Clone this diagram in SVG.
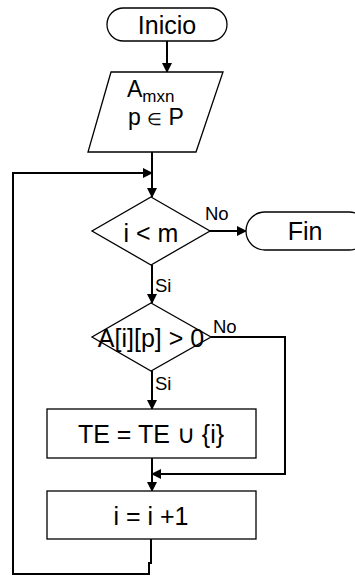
<svg xmlns="http://www.w3.org/2000/svg" width="355" height="576" viewBox="0 0 355 576">
  <style>
    .shape { fill: #ffffff; stroke: #000000; stroke-width: 1.3; }
    .wire { fill: none; stroke: #000000; stroke-width: 2; }
    .txt { font-family: "Liberation Sans", Arial, sans-serif; font-size: 25px; fill: #000000; text-anchor: middle; }
    .lbl { font-family: "Liberation Sans", Arial, sans-serif; font-size: 18.5px; fill: #000000; }
  </style>
  <defs>
    <marker id="arrow" markerWidth="10" markerHeight="10" refX="9" refY="5" orient="auto" markerUnits="userSpaceOnUse">
      <path d="M0,0 L10,5 L0,10 Z" fill="#000000"/>
    </marker>
  </defs>

  <!-- connectors -->
  <g id="connectors">
    <line class="wire" x1="167" y1="41" x2="167" y2="72" marker-end="url(#arrow)"/>
    <line class="wire" x1="152" y1="152" x2="152" y2="197" marker-end="url(#arrow)"/>
    <!-- loop back from i = i + 1 -->
    <path class="wire" d="M151,539 L151,563 L149,563 L149,574 L13,574 L13,173 L152,173" marker-end="url(#arrow)"/>
    <line class="wire" x1="210" y1="231" x2="246" y2="231" marker-end="url(#arrow)"/>
    <line class="wire" x1="152" y1="265" x2="152" y2="303" marker-end="url(#arrow)"/>
    <line class="wire" x1="152" y1="371" x2="152" y2="409" marker-end="url(#arrow)"/>
    <path class="wire" d="M211,337 L285,337 L285,474 L152,474" marker-end="url(#arrow)"/>
    <line class="wire" x1="152" y1="458" x2="152" y2="491" marker-end="url(#arrow)"/>
    <text class="lbl" x="205" y="220">No</text>
    <text class="lbl" x="155" y="292">Si</text>
    <text class="lbl" x="213" y="333">No</text>
    <text class="lbl" x="155" y="390">Si</text>
  </g>

  <g id="inicio">
    <rect class="shape" x="107" y="8" width="120" height="33" rx="16.5"/>
    <text class="txt" x="167" y="34">Inicio</text>
  </g>

  <g id="entrada">
    <polygon class="shape" points="111,72 223,72 196,152 88,152"/>
    <text class="txt" x="127" y="97" style="text-anchor:start;font-size:23px">A<tspan dy="5" style="font-size:17px">mxn</tspan></text>
    <text class="txt" x="156" y="125" style="font-size:23px">p <tspan style="font-size:17px">∈</tspan> P</text>
  </g>

  <g id="cond-i-m">
    <polygon class="shape" points="151,197 210,231 151,265 92,231"/>
    <text class="txt" x="151" y="242">i &lt; m</text>
  </g>

  <g id="fin">
    <rect class="shape" x="246" y="212" width="122" height="38" rx="19"/>
    <text class="txt" x="305" y="240">Fin</text>
  </g>

  <g id="cond-a">
    <polygon class="shape" points="151,303 211,337 151,371 92,337"/>
    <text class="txt" x="151" y="347">A[i][p] &gt; 0</text>
  </g>

  <g id="union">
    <rect class="shape" x="47" y="409" width="209" height="49"/>
    <text class="txt" x="151" y="443">TE = TE ∪ {i}</text>
  </g>

  <g id="incremento">
    <rect class="shape" x="47" y="491" width="209" height="48"/>
    <text class="txt" x="151" y="525">i = i +1</text>
  </g>
</svg>
